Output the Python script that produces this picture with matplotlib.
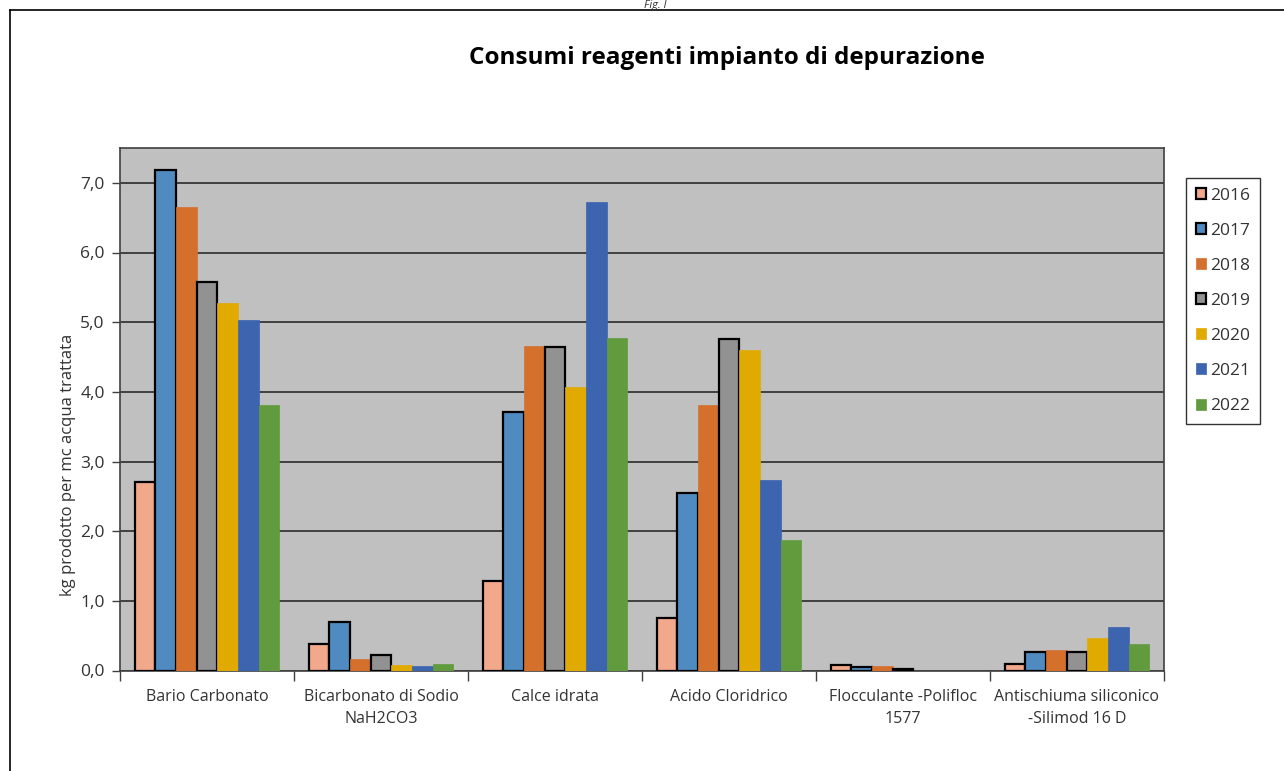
import matplotlib
matplotlib.use("Agg")
import matplotlib.pyplot as plt
import numpy as np
from matplotlib.patches import Patch
from matplotlib.lines import Line2D

plt.rcParams['font.family'] = ['Open Sans', 'DejaVu Sans']

categories = ["Bario Carbonato", "Bicarbonato di Sodio\nNaH2CO3", "Calce idrata",
              "Acido Cloridrico", "Flocculante -Polifloc\n1577",
              "Antischiuma siliconico\n-Silimod 16 D"]
years = ["2016", "2017", "2018", "2019", "2020", "2021", "2022"]
v2016 = [2.70, 0.38, 1.28, 0.76, 0.075, 0.09]
v2017 = [7.18, 0.69, 3.71, 2.55, 0.055, 0.27]
v2018 = [6.65, 0.17, 4.66, 3.81, 0.065, 0.30]
v2019 = [5.58, 0.22, 4.65, 4.76, 0.02, 0.27]
v2020 = [5.27, 0.08, 4.07, 4.60, 0.0, 0.47]
v2021 = [5.03, 0.06, 6.72, 2.73, 0.0, 0.63]
v2022 = [3.81, 0.10, 4.77, 1.87, 0.0, 0.38]
series = [v2016, v2017, v2018, v2019, v2020, v2021, v2022]
yticks = [0, 1, 2, 3, 4, 5, 6, 7]
ytick_labels = ["0,0", "1,0", "2,0", "3,0", "4,0", "5,0", "6,0", "7,0"]

colors = ["#F2A98B", "#4F8BC1", "#D46F2C", "#929292", "#E1AA00", "#3D64AE", "#629A3E"]
edged = [True, True, False, True, False, False, False]

fig = plt.figure(figsize=(12.84, 7.71), dpi=100)
W, H = 1284, 771
ax = fig.add_axes([120 / W, (H - 670.5) / H, 1044 / W, (670.5 - 148) / H])
ax.set_facecolor("#C0C0C0")

x = np.arange(len(categories))
w = 0.1184
for j, (vals, c, e) in enumerate(zip(series, colors, edged)):
    pos = x + (j - 3) * w
    if e:
        ax.bar(pos, vals, width=w, color=c, edgecolor="black", linewidth=1.6, zorder=3)
    else:
        ax.bar(pos, vals, width=w, color=c, edgecolor=c, linewidth=0.5, zorder=3)

ax.set_xlim(-0.5, len(categories) - 0.5)
ax.set_ylim(0, 7.5)
ax.set_yticks(yticks)
ax.set_yticklabels(ytick_labels, fontsize=12.5, color="#333333")
ax.yaxis.grid(True, color="#2a2a2a", linewidth=1.2, zorder=1)
ax.set_axisbelow(True)
ax.tick_params(axis="y", direction="out", length=6, width=1, color="#404040", pad=5)

ax.set_xticks(x)
ax.set_xticklabels(categories, fontsize=11.5, color="#333333", linespacing=1.5)
ax.tick_params(axis="x", which="major", length=0, pad=13)
ax.set_xticks(np.arange(-0.5, len(categories) + 0.5, 1.0), minor=True)
ax.tick_params(axis="x", which="minor", direction="out", length=7, width=1, color="#404040")

for s in ax.spines.values():
    s.set_color("#404040")
    s.set_linewidth(1.2)

ax.set_ylabel("kg prodotto per mc acqua trattata", fontsize=12, color="#333333")
ax.yaxis.set_label_coords(-44 / 1044, (670.5 - 465) / 522.5)

fig.text(727 / W, 1 - 58 / H, "Consumi reagenti impianto di depurazione",
         ha="center", va="center", fontsize=17.5, fontweight="bold", color="black")
fig.text(655 / W, 1.0, "Fig. I", ha="center", va="top", fontsize=8,
         style="italic", color="#333333")

# border frame
fig.add_artist(Line2D([10 / W, 10 / W], [0, 1 - 10 / H], transform=fig.transFigure,
                      color="black", linewidth=1.2))
fig.add_artist(Line2D([10 / W, 1], [1 - 10 / H, 1 - 10 / H], transform=fig.transFigure,
                      color="black", linewidth=1.2))

handles = []
for c, e in zip(colors, edged):
    if e:
        handles.append(Patch(facecolor=c, edgecolor="black", linewidth=1.6))
    else:
        handles.append(Patch(facecolor=c, edgecolor=c, linewidth=0.5))
leg = fig.legend(handles, years, loc="upper left",
                 bbox_to_anchor=(1186 / W, 1 - 178 / H), frameon=True, fancybox=False,
                 fontsize=12.5, handlelength=0.6, handleheight=0.6, handletextpad=0.25,
                 labelspacing=1.1, borderpad=0.55, borderaxespad=0, labelcolor="#333333")
leg.get_frame().set_edgecolor("black")
leg.get_frame().set_linewidth(1.0)

fig.savefig("out.png", dpi=100)
